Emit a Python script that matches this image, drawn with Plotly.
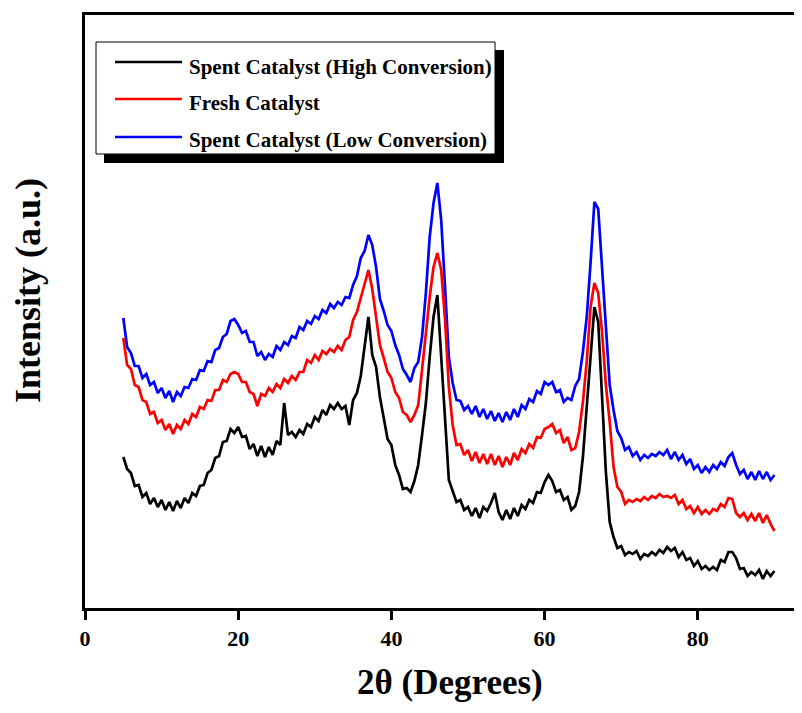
import plotly.graph_objects as go

# ---------------- data ----------------
two_theta = [5.0 + 0.5 * i for i in range(171)]  # 5.0 ... 90.0 degrees

spent_high = [
    150, 138, 134, 121, 122, 110, 114, 103, 109, 100,
    107, 97, 105, 96, 106, 99, 109, 104, 114, 111,
    121, 122, 134, 137, 149, 151, 165, 166, 178, 174,
    180, 170, 171, 158, 163, 151, 161, 150, 160, 152,
    166, 162, 204, 172, 175, 170, 177, 173, 183, 180,
    190, 186, 197, 192, 202, 198, 204, 198, 201, 182,
    207, 214, 231, 258, 290, 252, 240, 210, 187, 168,
    162, 142, 132, 118, 119, 115, 126, 142, 172, 204,
    250, 290, 312, 250, 177, 127, 116, 105, 107, 97,
    100, 91, 99, 89, 100, 96, 104, 114, 95, 87,
    97, 88, 99, 91, 102, 98, 107, 104, 115, 114,
    125, 132, 126, 115, 117, 107, 110, 97, 101, 115,
    150, 200, 255, 300, 285, 205, 135, 85, 70, 59,
    61, 52, 55, 53, 56, 48, 53, 51, 55, 52,
    57, 54, 60, 56, 59, 50, 55, 47, 49, 41,
    46, 38, 41, 37, 40, 37, 47, 45, 55, 55,
    49, 38, 39, 31, 35, 32, 37, 28, 36, 31,
    36,
]

fresh = [
    269, 242, 238, 222, 220, 207, 205, 193, 195, 184,
    187, 177, 183, 173, 182, 178, 187, 183, 193, 190,
    200, 198, 207, 206, 217, 217, 227, 225, 233, 235,
    233, 225, 225, 215, 213, 201, 213, 211, 219, 215,
    223, 219, 228, 224, 231, 227, 235, 235, 247, 244,
    252, 247, 256, 253, 258, 255, 261, 257, 267, 270,
    287, 295, 309, 322, 337, 318, 292, 262, 249, 235,
    229, 215, 209, 195, 192, 185, 192, 202, 237, 277,
    310, 340, 354, 337, 287, 220, 182, 162, 163, 152,
    157, 146, 155, 144, 153, 143, 153, 142, 151, 140,
    150, 142, 154, 147, 158, 154, 163, 159, 170, 169,
    178, 180, 183, 174, 177, 164, 170, 157, 159, 175,
    205, 245, 300, 324, 314, 275, 222, 185, 140, 120,
    115, 103, 107, 105, 108, 106, 110, 107, 111, 109,
    113, 110, 111, 109, 112, 103, 107, 98, 101, 94,
    100, 93, 97, 93, 98, 96, 103, 100, 109, 108,
    94, 90, 94, 87, 93, 86, 94, 84, 92, 83,
    76,
]

spent_low = [
    289, 260, 254, 241, 241, 229, 233, 222, 225, 214,
    219, 209, 216, 205, 215, 211, 220, 219, 228, 227,
    237, 236, 246, 245, 257, 259, 270, 273, 286, 288,
    282, 274, 276, 265, 265, 251, 255, 247, 253, 250,
    261, 257, 265, 262, 271, 269, 280, 277, 286, 283,
    291, 288, 297, 294, 303, 299, 305, 302, 310, 309,
    322, 331, 349, 356, 372, 362, 340, 308, 296, 282,
    276, 262, 252, 238, 232, 225, 239, 245, 270, 314,
    370, 404, 424, 387, 320, 250, 224, 207, 206, 197,
    201, 193, 201, 190, 198, 188, 196, 186, 194, 185,
    195, 187, 198, 190, 202, 198, 208, 205, 216, 213,
    225, 222, 225, 215, 217, 205, 209, 207, 221, 228,
    255, 290, 344, 405, 398, 340, 272, 222, 197, 176,
    169, 157, 160, 151, 155, 147, 152, 149, 153, 151,
    155, 152, 157, 148, 155, 147, 152, 143, 148, 138,
    142, 134, 140, 135, 142, 138, 145, 141, 150, 154,
    142, 133, 137, 128, 135, 127, 136, 128, 135, 127,
    132,
]

series_names = [
    "Spent Catalyst (High Conversion)",
    "Fresh Catalyst",
    "Spent Catalyst (Low Conversion)",
]
series_values = [spent_high, fresh, spent_low]
series_colors = ["#000000", "#ff0000", "#0000ff"]

x_ticks = [0, 20, 40, 60, 80]
x_title = "2θ (Degrees)"
y_title = "Intensity (a.u.)"

# ---------------- layout geometry ----------------
# the page body has an 8px margin, so the figure is sized to fit inside it
OFF = 8
W, H = 802 - 2 * OFF, 713 - 2 * OFF
ML, MR, MT, MB = 85 - OFF, 0, 15 - OFF, (713 - 2 * OFF) - (608 - OFF)
PW, PH = W - ML - MR, H - MT - MB
PX_PER_DEG = 7.66

FONT = "Liberation Serif"


def fx(px):  # screen pixel -> paper x
    return (px - OFF - ML) / PW


def fy(py):  # screen pixel -> paper y
    return (H - MB - (py - OFF)) / PH


fig = go.Figure()

# draw order: blue, red, black (black on top)
for name, vals, col in reversed(list(zip(series_names, series_values, series_colors))):
    fig.add_trace(go.Scatter(
        x=two_theta, y=vals, mode="lines", name=name,
        line=dict(color=col, width=2.7), showlegend=False,
    ))

# ---------------- legend box (with drop shadow) ----------------
shapes = [
    dict(type="rect", xref="paper", yref="paper",
         x0=fx(104), x1=fx(504), y0=fy(163), y1=fy(50),
         fillcolor="black", line=dict(width=0), layer="above"),
    dict(type="rect", xref="paper", yref="paper",
         x0=fx(96), x1=fx(495), y0=fy(154), y1=fy(42),
         fillcolor="white", line=dict(color="black", width=1), layer="above"),
]
annotations = []
row_line_y = [62, 99, 137]
row_text_y = [67, 103, 140]
for name, col, ly, ty in zip(series_names, series_colors, row_line_y, row_text_y):
    shapes.append(dict(type="line", xref="paper", yref="paper",
                       x0=fx(115), x1=fx(182), y0=fy(ly), y1=fy(ly),
                       line=dict(color=col, width=2.5), layer="above"))
    annotations.append(dict(xref="paper", yref="paper", x=fx(187), y=fy(ty),
                            xanchor="left", yanchor="middle", showarrow=False,
                            text=name,
                            font=dict(family=FONT, size=21, color="black", weight="bold")))

# axis titles (placed like the reference, whose frame continues past the right edge)
annotations.append(dict(xref="paper", yref="paper", x=fx(450), y=fy(704),
                        xanchor="center", yanchor="bottom", showarrow=False,
                        text=x_title,
                        font=dict(family=FONT, size=35, color="black", weight="bold")))
annotations.append(dict(xref="paper", yref="paper", x=fx(28), y=fy(291),
                        xanchor="center", yanchor="middle", showarrow=False,
                        textangle=-90, text=y_title,
                        font=dict(family=FONT, size=36, color="black", weight="bold")))

fig.update_layout(
    template="none",
    width=W, height=H,
    margin=dict(l=ML, r=MR, t=MT, b=MB, pad=0),
    paper_bgcolor="white", plot_bgcolor="white",
    showlegend=False,
    shapes=shapes,
    annotations=annotations,
    xaxis=dict(
        range=[0, PW / PX_PER_DEG],
        tickvals=x_ticks, ticktext=[str(v) for v in x_ticks],
        ticks="outside", ticklen=9, tickwidth=3, tickcolor="black",
        ticklabelstandoff=0,
        showline=True, linewidth=3, linecolor="black", mirror=True,
        showgrid=False, zeroline=False,
        tickfont=dict(family=FONT, size=22, color="black", weight="bold"),
        automargin=False,
    ),
    yaxis=dict(
        range=[-1, PH - 1],
        showticklabels=False, ticks="",
        showline=True, linewidth=3, linecolor="black",
        showgrid=False, zeroline=False,
        automargin=False,
    ),
)

fig.write_html("out.html")
